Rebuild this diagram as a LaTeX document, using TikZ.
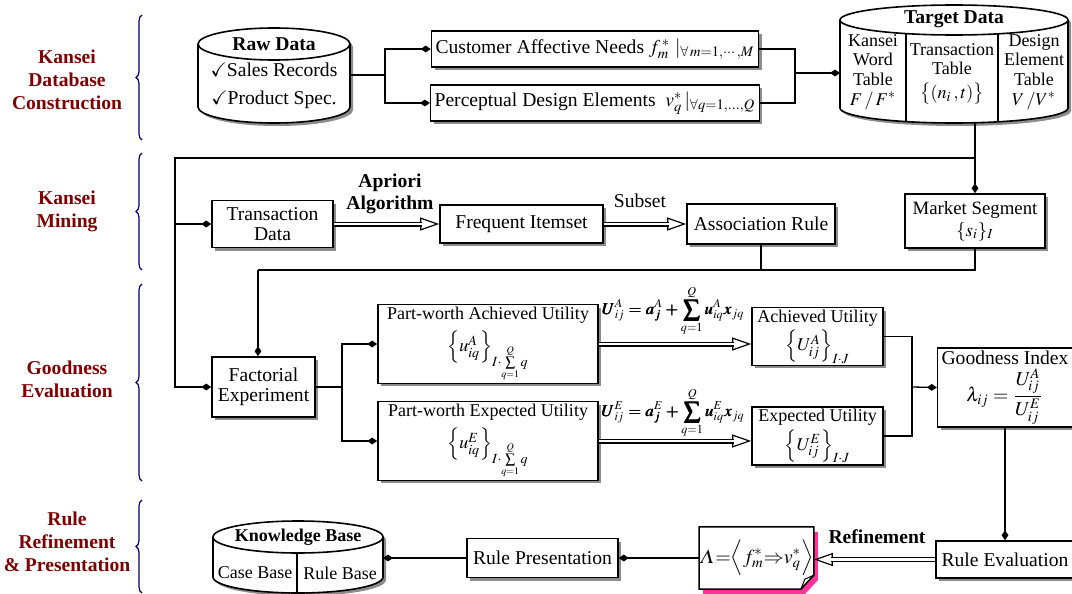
\documentclass[tikz,border=0pt]{standalone}
\usepackage{mathptmx}
\usepackage{amsmath,amssymb,bm}
\usepackage[no-math]{fontspec}
\setmainfont{Liberation Serif}
\usetikzlibrary{arrows.meta,calc,positioning,shadows,backgrounds,decorations.pathreplacing}
\definecolor{fg}{RGB}{0,0,0}
\definecolor{stage}{RGB}{128,0,0}
\definecolor{brc}{RGB}{0,0,110}
\definecolor{note}{RGB}{255,51,153}
\definecolor{shd}{RGB}{140,140,140}
\newcommand{\kfont}{\fontsize{9.8}{10}\selectfont}
\newcommand{\sfont}{\fontsize{9}{9.8}\selectfont}
% Datenbank-Zylinder: links, rechts, Mitte oben, Mitte unten, Halbachse
\newcommand{\dbcyl}[5]{%
  \pgfmathsetmacro\dbrx{(#2-#1)/2}%
  \fill[shd, shift={(3,3)}] (#1,#3) -- (#1,#4) arc[start angle=180, end angle=0, x radius=\dbrx, y radius=#5]
    -- (#2,#3) arc[start angle=0, end angle=-180, x radius=\dbrx, y radius=#5] -- cycle;
  \draw[rim, fill=white] (#1,#3) -- (#1,#4) arc[start angle=180, end angle=0, x radius=\dbrx, y radius=#5]
    -- (#2,#3) arc[start angle=0, end angle=-180, x radius=\dbrx, y radius=#5] -- cycle;
  \draw[rim] (#1,#3) arc[start angle=180, end angle=0, x radius=\dbrx, y radius=#5];
}
% Hohlpfeil: Spitze, dann doppelter Schaft
\newcommand{\hollow}[2]{%
  \draw[hollowtip] #1 -- #2;
  \draw[hollowshaft] #1 -- #2;
}
\tikzset{
  every picture/.style={fg, line width=0.65pt},
  every node/.style={font=\kfont},
  % Linien
  rim/.style={line width=0.8pt},
  dtip/.style={-{Diamond[length=5pt,width=3.4pt]}},
  hollowtip/.style={line width=0.6pt, -{Triangle[open,length=9.5pt,width=6.5pt]}},
  hollowshaft/.style={double, double distance=1.3pt, line width=0.6pt, shorten >=8.7pt},
  % Kästen
  box/.style={rim, draw, fill=white, align=center, inner xsep=2pt, inner ysep=1pt,
    drop shadow={shadow xshift=1.5pt, shadow yshift=-1.5pt, fill=shd, opacity=1}},
  small/.style={font=\sfont},
  head/.style={font=\kfont\bfseries},
  eqlbl/.style={font=\fontsize{8.2}{9}\selectfont, inner sep=0pt},
  % Phasen
  stagelbl/.style={stage, align=center, font=\fontsize{9.8}{11.5}\selectfont\bfseries},
  stagebrace/.style={brc, line width=0.6pt, decorate, decoration={brace, amplitude=3pt}},
}
\begin{document}
\begin{tikzpicture}[x=0.5pt, y=-0.5pt]
  \useasboundingbox (0,0) rectangle (1072,594);
  % Phasen links
  \node[stagelbl] (st1) at (67,80) {Kansei\\Database\\Construction};
  \node[stagelbl] (st2) at (67,211.5) {Kansei\\Mining};
  \node[stagelbl] (st3) at (67,379.5) {Goodness\\Evaluation};
  \node[stagelbl] (st4) at (67,542) {Rule\\Refinement\\\& Presentation};
  \foreach \ya/\yb in {15/140, 153/270, 284/481, 500/593}
    \draw[stagebrace] (142,\yb) -- (142,\ya);

  % Datenbasis
  \dbcyl{198}{350}{44}{107}{16}
  \node[head] (rawhead) at (274,44) {Raw Data};
  \node[align=center] (rawlist) at (274,86) {$\checkmark$Sales Records\\[4pt]$\checkmark$Product Spec.};
  \coordinate (rawe) at (350,75);
  \node[box, minimum width=163pt, minimum height=18pt] (need) at (595,49)
    {Customer Affective Needs $f_m^{\,*}\ |_{\forall\, m=1,\cdots,M}$};
  \node[box, minimum width=163pt, minimum height=18pt] (elem) at (595,103)
    {Perceptual Design Elements \ $v_q^{*}\,|_{\forall q=1,\dots,Q}$};
  \dbcyl{840}{1068}{20}{108}{15}
  \draw[rim] (906,34) -- (906,122) (998,34) -- (998,122);
  \node[head] (tdhead) at (954,19) {Target Data};
  \node[small, align=center] (kw) at (873,72) {Kansei\\Word\\Table\\$F\,/\,F^{*}$};
  \node[small, align=center] (tt) at (952,74) {Transaction\\Table\\[2pt]$\bigl\{(n_i\,,t)\bigr\}$};
  \node[small, align=center] (de) at (1034,72) {Design\\Element\\Table\\$V\,/V^{*}$};
  \coordinate (tdw) at (840,73);
  \coordinate (tdb) at (975,123);

  % Mining
  \node[box, minimum width=60.5pt, minimum height=23.5pt] (trans) at (272.5,224) {Transaction\\Data};
  \node[box, minimum width=81.5pt, minimum height=19pt] (freq) at (521.5,224) {Frequent Itemset};
  \node[box, minimum width=74pt, minimum height=20pt] (assoc) at (761,224) {Association Rule};
  \node[box, minimum width=70pt, minimum height=27pt, font=\fontsize{9.4}{10}\selectfont] (seg) at (975,221)
    {Market Segment\\[1pt]$\{s_i\}_I$};
  \node[head, align=center, font=\fontsize{9.8}{11}\selectfont\bfseries] (apr) at (390,194) {Apriori\\Algorithm};
  \node (sub) at (640,201) {Subset};

  % Bewertung
  \node[box, minimum width=51.5pt, minimum height=30pt] (fact) at (263.5,387) {Factorial\\Experiment};
  \node[box, small, minimum width=110pt, minimum height=35pt] (pwa) at (488,344)
    {Part-worth Achieved Utility\\[3pt]$\left\{u_{iq}^{A}\right\}_{I\cdot\sum\limits_{q=1}^{Q}q}$};
  \node[box, small, minimum width=110pt, minimum height=37pt] (pwe) at (488,441)
    {Part-worth Expected Utility\\[3pt]$\left\{u_{iq}^{E}\right\}_{I\cdot\sum\limits_{q=1}^{Q}q}$};
  \node[eqlbl] (ua) at (673,311) {$\displaystyle\bm{U_{ij}^{A}=a_j^{A}+\sum_{q=1}^{Q}u_{iq}^{A}x_{jq}}$};
  \node[eqlbl] (ue) at (673,413) {$\displaystyle\bm{U_{ij}^{E}=a_j^{E}+\sum_{q=1}^{Q}u_{iq}^{E}x_{jq}}$};
  \node[box, small, minimum width=65.5pt, minimum height=26.5pt] (ach) at (817.5,336.5)
    {Achieved Utility\\[1pt]$\left\{U_{ij}^{A}\right\}_{I\cdot J}$};
  \node[box, small, minimum width=65.5pt, minimum height=26pt] (exp) at (817.5,436)
    {Expected Utility\\[1pt]$\left\{U_{ij}^{E}\right\}_{I\cdot J}$};
  \node[box, minimum width=66pt, minimum height=39.5pt] (good) at (1005,387.5)
    {Goodness Index\\[1pt]$\lambda_{ij}=\dfrac{U_{ij}^{A}}{U_{ij}^{E}}$};

  % Regeln
  \node[box, minimum width=69pt, minimum height=18.5pt] (reval) at (1005,559.5) {Rule Evaluation};
  \node[minimum width=56.5pt, minimum height=30.5pt, inner sep=0pt, font=\fontsize{10}{12}\selectfont] (lam) at (756.5,558)
    {$\varLambda{=}\Bigl\langle f_m^{*}{\Rightarrow}v_q^{*}\Bigr\rangle$};
  \begin{scope}[on background layer]
    \fill[note] ([shift={(4,5)}]lam.north west) -- ([shift={(4,5)}]lam.north east) -- ([shift={(4,-9)}]lam.south east)
      -- ([shift={(-9,5)}]lam.south east) -- ([shift={(4,5)}]lam.south west) -- cycle;
    \draw[rim, fill=white] (lam.north west) -- (lam.north east) -- ([shift={(0,-14)}]lam.south east)
      -- ([shift={(-13,0)}]lam.south east) -- (lam.south west) -- cycle;
  \end{scope}
  \draw[line width=0.5pt] ([shift={(-13,0)}]lam.south east) -- ([shift={(-9,-10)}]lam.south east) -- ([shift={(0,-14)}]lam.south east);
  \node[head] (ref) at (877,537) {Refinement};
  \node[box, minimum width=75.5pt, minimum height=19.5pt] (rpres) at (542.5,558) {Rule Presentation};
  \dbcyl{213}{383}{537}{577}{16}
  \draw[rim] (297,553) -- (297,593);
  \node[head, font=\sfont\bfseries] (kbhead) at (298,537) {Knowledge Base};
  \node[small] (cb) at (255,573) {Case Base};
  \node[small] (rb) at (340,573) {Rule Base};
  \coordinate (kbe) at (383,558);

  % Verbindungen
  \draw (rawe) -- ++(35,0) coordinate (rawj);
  \draw[dtip] (rawj) |- (need.west);
  \draw[dtip] (rawj) |- (elem.west);
  \coordinate (tdj) at (795,73);
  \draw (need.east) -| (tdj) |- (elem.east);
  \draw[dtip] (tdj) -- (tdw);
  \coordinate (mj) at (975,158);
  \coordinate (spine) at (175,387);
  \draw (tdb) -- (mj);
  \draw[dtip] (mj) -- (seg.north);
  \draw[dtip] (mj) -| (spine) -- (fact.west);
  \draw[dtip] (spine |- trans.west) -- (trans.west);
  \hollow{(trans.east)}{(trans.east -| freq.west)}
  \hollow{(freq.east)}{(freq.east -| assoc.west)}
  \coordinate (ej) at (975,270);
  \coordinate (fj) at (258,270);
  \draw (seg.south) -- (ej) -- (fj);
  \draw (assoc.south) -- (assoc.south |- ej);
  \draw[dtip] (fj) -- (fj |- fact.north);
  \coordinate (pj) at (342,387);
  \draw (fact.east) -- (pj);
  \draw[dtip] (pj) |- (pwa.west);
  \draw[dtip] (pj) |- (pwe.west);
  \hollow{(pwa.east)}{(pwa.east -| ach.west)}
  \hollow{(pwe.east)}{(pwe.east -| exp.west)}
  \coordinate (gj) at (912,387);
  \draw (ach.east) -| (gj);
  \draw (exp.east) -| (gj);
  \draw[dtip] (gj) -- (good.west);
  \draw[dtip] (good.south) -- (reval.north);
  \hollow{(reval.west)}{(reval.west -| lam.east)}
  \draw[dtip] (lam.west) -- (lam.west -| rpres.east);
  \draw[dtip] (rpres.west) -- (rpres.west -| kbe);
\end{tikzpicture}
\end{document}
